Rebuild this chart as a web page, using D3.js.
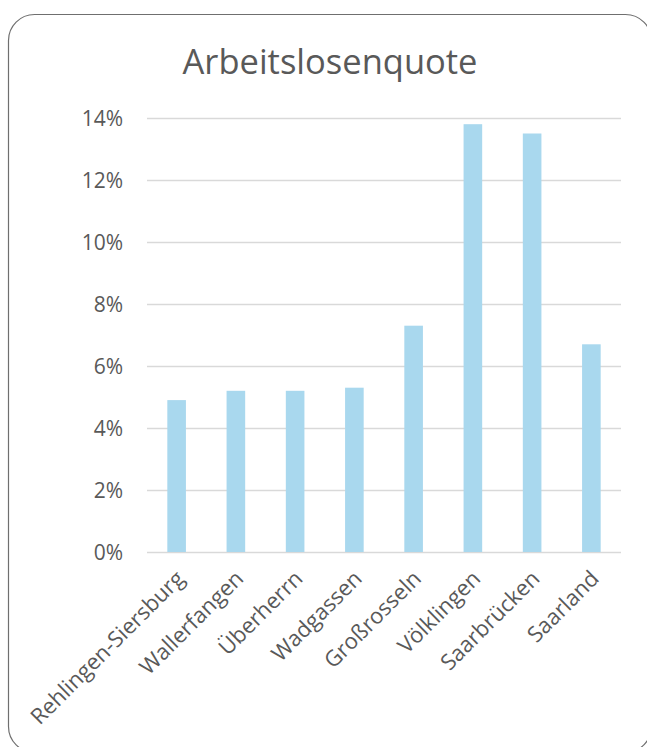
<!DOCTYPE html>
<html><head><meta charset="utf-8">
<script src="https://cdn.jsdelivr.net/npm/d3@7"></script>
<style>html,body{margin:0;padding:0;background:#fff;}svg{display:block;}</style>
</head><body>
<script>
const categories = ["Rehlingen-Siersburg","Wallerfangen","Überherrn","Wadgassen","Großrosseln","Völklingen","Saarbrücken","Saarland"];
const values = [0.049,0.052,0.052,0.053,0.073,0.138,0.135,0.067];
const yTicks = [0,0.02,0.04,0.06,0.08,0.10,0.12,0.14];
const title = "Arbeitslosenquote";

(function(){
const W=647,H=747;
const svg=d3.select("body").append("svg").attr("width",W).attr("height",H);
const font="'Open Sans', sans-serif";
svg.append("rect").attr("x",8.5).attr("y",14.5).attr("width",643).attr("height",738)
  .attr("rx",26).attr("ry",26).attr("fill","#fff").attr("stroke","#6f6f6f").attr("stroke-width",1.2);

const pl=147,pr=621,pt=118,pb=552;
const x=d3.scaleBand().domain(categories).range([pl,pr]).paddingInner(0.686).paddingOuter(0.343);
const y=d3.scaleLinear().domain([0,0.14]).range([pb,pt]);

svg.append("text").attr("x",330).attr("y",74).attr("text-anchor","middle")
  .attr("font-family",font).attr("font-size",34.5).attr("fill","#595959").text(title);

const ya=svg.append("g").attr("transform",`translate(${pl},0)`)
  .call(d3.axisLeft(y).tickValues(yTicks).tickFormat(d3.format(".0%")).tickSize(-(pr-pl)).tickPadding(24));
ya.select(".domain").remove();
ya.selectAll(".tick line").attr("stroke","#d9d9d9").attr("stroke-width",1.5);
ya.selectAll(".tick text").attr("font-family",font).attr("font-size",21).attr("fill","#595959").attr("dy","0.35em");

svg.append("g").selectAll("rect").data(values).join("rect")
  .attr("x",(d,i)=>x(categories[i])).attr("width",x.bandwidth())
  .attr("y",d=>y(d)).attr("height",d=>pb-y(d)).attr("fill","#a9d8ee");

svg.append("g").selectAll("text").data(categories).join("text")
  .attr("transform",d=>`translate(${x(d)+x.bandwidth()/2+9},${pb+28}) rotate(-45)`)
  .attr("text-anchor","end").attr("font-family",font).attr("font-size",22).attr("fill","#595959").text(d=>d);
})();
</script>
</body></html>
